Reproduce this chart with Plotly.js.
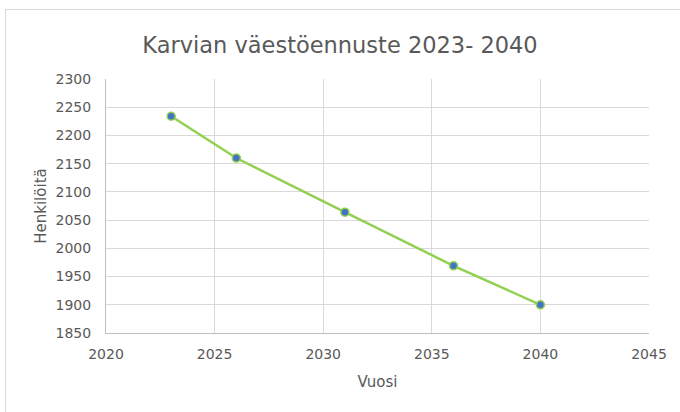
<!DOCTYPE html>
<html>
<head>
<meta charset="utf-8">
<script src="https://cdn.plot.ly/plotly-3.0.1.min.js"></script>
<style>
html,body{margin:0;padding:0;background:#fff;}
#frame{position:absolute;left:5px;top:9px;width:700px;height:430px;border:1px solid #d9d9d9;box-sizing:border-box;}
#chart{position:absolute;left:0;top:0;width:680px;height:412px;}
</style>
</head>
<body>
<div id="frame"></div>
<div id="chart"></div>
<script>
const years = [2023, 2026, 2031, 2036, 2040];
const population = [2234, 2160, 2064, 1969, 1900];
const titleText = "Karvian väestöennuste 2023- 2040";
const xTitle = "Vuosi";
const yTitle = "Henkilöitä";

const font = "'DejaVu Sans', sans-serif";

Plotly.newPlot('chart', [{
  x: years,
  y: population,
  type: 'scatter',
  mode: 'lines+markers',
  line: {color: '#92d050', width: 2.5},
  marker: {color: '#4472c4', size: 8, line: {color: '#92d050', width: 1.5}},
  hoverinfo: 'x+y'
}], {
  width: 680, height: 412,
  paper_bgcolor: 'rgba(0,0,0,0)',
  plot_bgcolor: 'rgba(0,0,0,0)',
  margin: {l: 106, r: 31, t: 79, b: 79},
  showlegend: false,
  font: {family: font, color: '#595959', size: 13},
  title: {text: titleText, x: 0.5, xanchor: 'center', y: 0.89, yanchor: 'middle',
          font: {family: font, size: 22.5, color: '#595959'}},
  xaxis: {
    range: [2020, 2045], dtick: 5, tick0: 2020,
    showgrid: true, gridcolor: '#d9d9d9', gridwidth: 1,
    zeroline: false, showline: true, linecolor: '#bfbfbf', linewidth: 1, mirror: false,
    ticks: '', ticklabelstandoff: 8,
    tickfont: {size: 14, color: '#595959'},
    title: {text: xTitle, font: {size: 15, color: '#595959'}, standoff: 15}
  },
  yaxis: {
    range: [1850, 2300], dtick: 50, tick0: 1850,
    showgrid: true, gridcolor: '#d9d9d9', gridwidth: 1,
    zeroline: false, showline: true, linecolor: '#bfbfbf', linewidth: 1,
    ticks: '', ticklabelstandoff: 11,
    tickfont: {size: 14, color: '#595959'},
    title: {text: yTitle, font: {size: 15, color: '#595959'}, standoff: 5}
  }
}, {displayModeBar: false});
</script>
</body>
</html>
